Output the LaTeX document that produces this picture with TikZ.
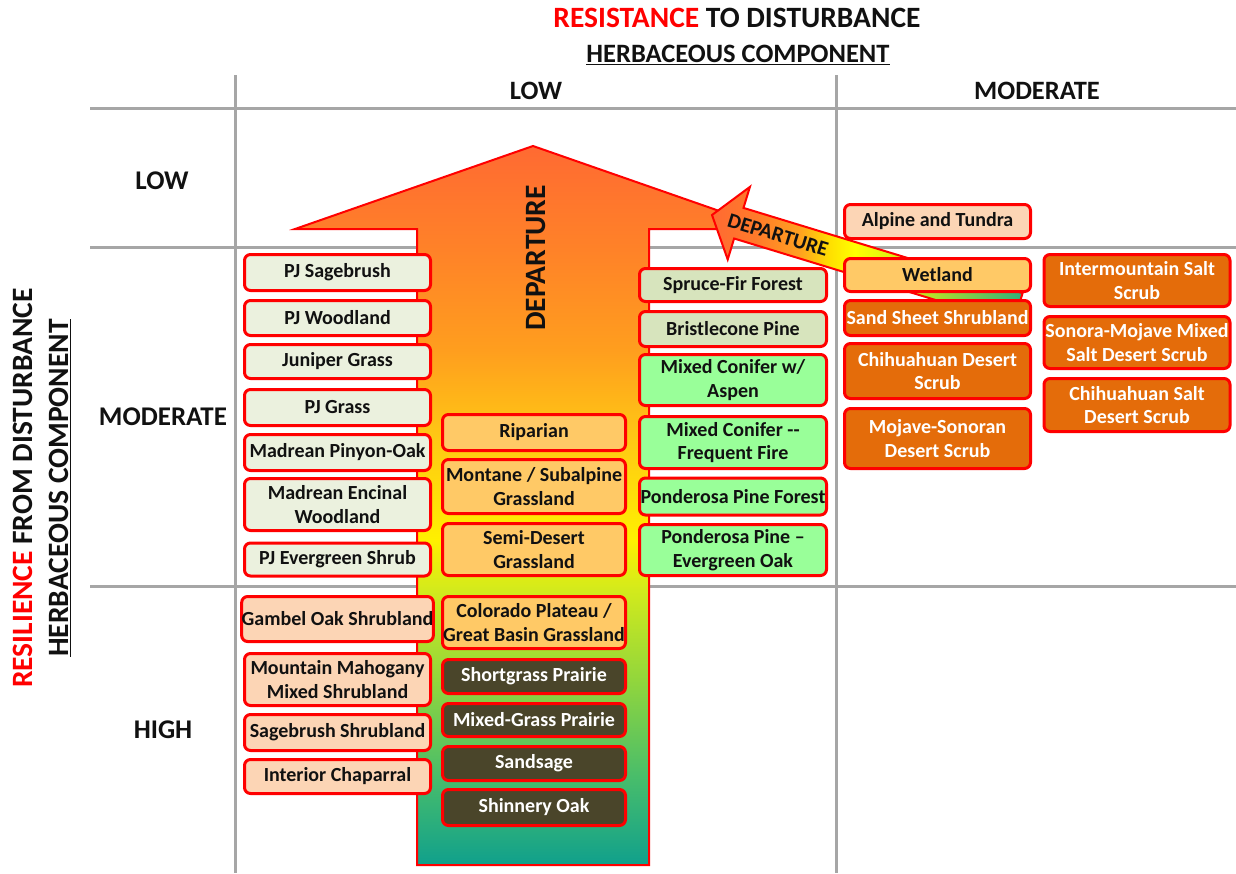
\documentclass[tikz,border=0pt]{standalone}
\usepackage{fontspec}
\setmainfont{Carlito}
\usetikzlibrary{shadings}

\definecolor{gridgray}{HTML}{A6A6A6}
\definecolor{inkblack}{HTML}{111111}
\definecolor{pjfill}{HTML}{EBF1DE}
\definecolor{peach}{HTML}{FCD5B5}
\definecolor{grassfill}{HTML}{FFC966}
\definecolor{prairie}{HTML}{4A452A}
\definecolor{sprucefill}{HTML}{D7E4BD}
\definecolor{conifer}{HTML}{99FF99}
\definecolor{desert}{HTML}{E46C0A}
\definecolor{dep0}{HTML}{10A08C}
\definecolor{dep1}{HTML}{46BC6C}
\definecolor{dep2}{HTML}{92D63C}
\definecolor{dep3}{HTML}{D2EA1C}
\definecolor{dep4}{HTML}{FFF000}
\definecolor{dep5}{HTML}{FFC814}
\definecolor{dep6}{HTML}{FF9E1E}
\definecolor{dep7}{HTML}{FF8228}
\definecolor{dep8}{HTML}{FF6A32}
\definecolor{sdep1}{HTML}{FF7A2A}
\definecolor{sdep2}{HTML}{FFA020}
\definecolor{sdep3}{HTML}{FFE000}
\definecolor{sdep4}{HTML}{FFFF00}
\definecolor{sdep5}{HTML}{C8E820}
\definecolor{tailgreen}{HTML}{2FB07A}

% colour run of the big arrow, bottom to top
\pgfdeclareverticalshading{bigdeparture}{100bp}{color(0bp)=(dep0); color(25bp)=(dep0);
  color(30.9bp)=(dep1); color(37.9bp)=(dep2); color(44.1bp)=(dep3); color(47.6bp)=(dep4);
  color(54.6bp)=(dep5); color(60.8bp)=(dep6); color(67.8bp)=(dep7); color(75bp)=(dep8);
  color(100bp)=(dep8)}
% and of the small one, tip to tail
\pgfdeclarehorizontalshading{smalldeparture}{100bp}{color(0bp)=(dep8); color(25bp)=(dep8);
  color(32bp)=(sdep1); color(39bp)=(sdep2); color(44bp)=(sdep3); color(48bp)=(sdep4);
  color(58bp)=(sdep5); color(75bp)=(tailgreen); color(100bp)=(tailgreen)}

\newcommand\boxfont{\fontsize{20}{23.5}\selectfont\bfseries}
\newcommand\headfont{\fontsize{26.5}{30}\selectfont\bfseries}
\newcommand\titlefont{\fontsize{29.5}{33}\selectfont\bfseries}

\begin{document}
\begin{tikzpicture}[x=1pt, y=-1pt,
  grid/.style={draw=gridgray, line width=3pt},
  bx/.style={draw=red, line width=3pt, rounded corners=6pt, inner sep=0pt, align=center, text=inkblack, font=\boxfont},
  pj/.style={bx, fill=pjfill, minimum width=186pt},
  shrub/.style={bx, fill=peach, minimum width=186pt},
  grass/.style={bx, fill=grassfill, minimum width=183pt},
  prairie/.style={bx, fill=prairie, text=white, minimum width=183pt},
  spruce/.style={bx, fill=sprucefill, minimum width=187pt},
  conif/.style={bx, fill=conifer, minimum width=187pt},
  tundra/.style={bx, fill=peach, minimum width=186pt},
  desert/.style={bx, fill=desert, text=white, minimum width=186pt},
  head/.style={font=\headfont, text=inkblack, inner sep=0pt}]
\useasboundingbox (0,0) rectangle (1236,873);

% grid
\foreach \y in {108,247,586} {\draw[grid] (90,\y) -- (1236,\y);}
\foreach \x in {235,836} {\draw[grid] (\x,75) -- (\x,873);}

% axis titles
\node[head, font=\titlefont] (restitle) at (737,18) {\textcolor{red}{RESISTANCE} TO DISTURBANCE};
\node[head] (reshead) at (738,55) {\underline{HERBACEOUS COMPONENT}};
\node[head, font=\titlefont, rotate=90] (resiltitle) at (23,488) {\textcolor{red}{RESILIENCE} FROM DISTURBANCE};
\node[head, font=\titlefont, rotate=90] (resilhead) at (60,488) {\underline{HERBACEOUS COMPONENT}};
\node[head] (collow) at (536,91) {LOW};
\node[head] (colmod) at (1037,91) {MODERATE};
\node[head, font=\fontsize{27}{31}\selectfont\bfseries] (rowlow) at (162,181) {LOW};
\node[head, font=\fontsize{27}{31}\selectfont\bfseries] (rowmod) at (163,417) {MODERATE};
\node[head, font=\fontsize{27}{31}\selectfont\bfseries] (rowhigh) at (163,730) {HIGH};

% departure arrows
\shade[shading=bigdeparture, draw=red, line width=2pt]
  (417,865) -- (417,229) -- (295,229) -- (533,146) -- (771,229) -- (649,229) -- (649,865) -- cycle;
\node[head, font=\titlefont, rotate=90] (bigdep) at (536,258) {DEPARTURE};
\shade[shading=smalldeparture, draw=red, line width=2pt]
  (712,215) -- (749.9,186.9) -- (743.5,207.9) -- (1022.6,293.1) -- (1013.2,323.7) -- (734.1,238.5) -- (727.7,259.5) -- cycle;
\node[head, font=\fontsize{21}{25}\selectfont\bfseries, rotate=-17] (smalldep) at (778,235) {DEPARTURE};

% low resistance, left column
\node[pj, minimum height=36pt] (pjsage) at (337.5,272.5) {PJ Sagebrush};
\node[pj, minimum height=35pt] (pjwood) at (337.5,318) {PJ Woodland};
\node[pj, minimum height=34pt] (junipergrass) at (337.5,361.5) {Juniper Grass};
\node[pj, minimum height=36pt] (pjgrass) at (337.5,407.5) {PJ Grass};
\node[pj, minimum height=36pt] (pinyonoak) at (337.5,452.5) {Madrean Pinyon-Oak};
\node[pj, minimum height=52pt] (encinal) at (337.5,504.5) {Madrean Encinal\\Woodland};
\node[pj, minimum height=33pt] (pjshrub) at (337.5,559.5) {PJ Evergreen Shrub};
\node[shrub, minimum height=45pt] (gambel) at (337.5,619) {Gambel Oak Shrubland};
\node[shrub, minimum height=52pt] (mahogany) at (337.5,679.5) {Mountain Mahogany\\Mixed Shrubland};
\node[shrub, minimum height=36pt] (sageshrub) at (337.5,732.5) {Sagebrush Shrubland};
\node[shrub, minimum height=34pt] (chaparral) at (337.5,776.5) {Interior Chaparral};

% low resistance, middle column
\node[grass, minimum height=36pt] (riparian) at (534,432.5) {Riparian};
\node[grass, minimum height=54pt] (montane) at (534,486.5) {Montane / Subalpine\\Grassland};
\node[grass, minimum height=52pt] (semidesert) at (534,549.5) {Semi-Desert\\Grassland};
\node[grass, minimum height=52pt] (colorado) at (534,622.5) {Colorado Plateau /\\Great Basin Grassland};
\node[prairie, minimum height=34pt] (shortgrass) at (534,676.5) {Shortgrass Prairie};
\node[prairie, minimum height=33pt] (mixedgrass) at (534,720) {Mixed-Grass Prairie};
\node[prairie, minimum height=34pt] (sandsage) at (534,763.5) {Sandsage};
\node[prairie, minimum height=36pt] (shinnery) at (534,807.5) {Shinnery Oak};

% low resistance, right column
\node[spruce, minimum height=33pt] (sprucefir) at (733,285) {Spruce-Fir Forest};
\node[spruce, minimum height=35pt] (bristlecone) at (733,329) {Bristlecone Pine};
\node[conif, minimum height=51pt] (aspen) at (733,380) {Mixed Conifer w/\\Aspen};
\node[conif, minimum height=52pt] (freqfire) at (733,442.5) {Mixed Conifer -{}-\\Frequent Fire};
\node[conif, minimum height=37pt] (ponderosa) at (733,496.5) {Ponderosa Pine Forest};
\node[conif, minimum height=51pt] (pineoak) at (733,550) {Ponderosa Pine --\\Evergreen Oak};

% moderate resistance
\node[tundra, minimum height=34pt] (alpine) at (937.5,221.5) {Alpine and Tundra};
\node[grass, minimum width=186pt, minimum height=33pt] (wetland) at (937.5,275) {Wetland};
\node[desert, minimum height=35pt] (sandsheet) at (937.5,318) {Sand Sheet Shrubland};
\node[desert, minimum height=55pt] (chihdesert) at (937.5,371) {Chihuahuan Desert\\Scrub};
\node[desert, minimum height=60pt] (mojave) at (937.5,438.5) {Mojave-Sonoran\\Desert Scrub};
\node[desert, minimum height=52pt] (intersalt) at (1137,280.5) {Intermountain Salt\\Scrub};
\node[desert, minimum height=52pt] (sonorasalt) at (1137,342.5) {Sonora-Mojave Mixed\\Salt Desert Scrub};
\node[desert, minimum height=53pt] (chihsalt) at (1137,405) {Chihuahuan Salt\\Desert Scrub};
\end{tikzpicture}
\end{document}
